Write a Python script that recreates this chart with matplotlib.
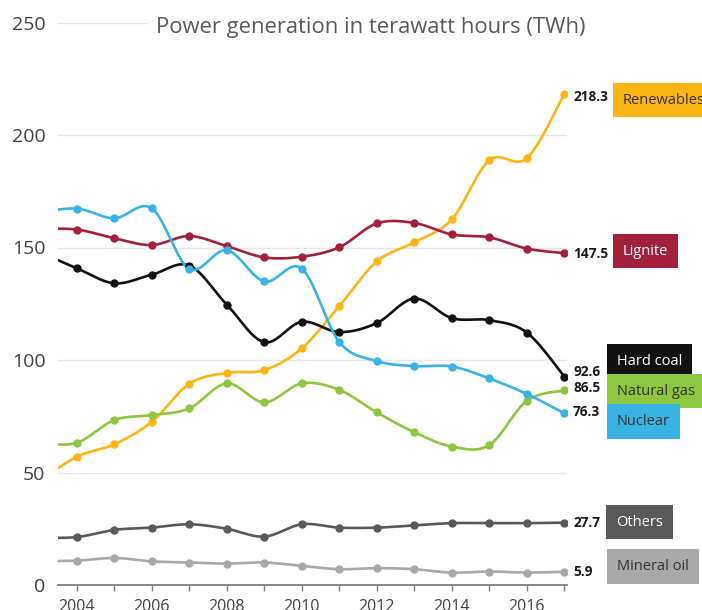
import numpy as np
import matplotlib
matplotlib.use("Agg")
import matplotlib.pyplot as plt
import matplotlib.transforms as mtransforms

plt.rcParams['font.family'] = ['Open Sans', 'DejaVu Sans']

# data (TWh), first value is 2003 which sits just outside the left edge
years = list(range(2003, 2018))
renewables = [46, 57.0, 62.5, 72.5, 89.4, 94.3, 95.5, 105.2, 124.0, 143.8, 152.3, 162.5, 188.8, 189.7, 218.3]
lignite = [158.2, 158.0, 154.1, 151.1, 155.1, 150.6, 145.6, 145.9, 150.1, 160.7, 160.9, 155.8, 154.5, 149.5, 147.5]
hard_coal = [148, 140.8, 134.1, 137.9, 142.0, 124.6, 107.9, 117.0, 112.4, 116.4, 127.3, 118.6, 117.7, 112.2, 92.6]
natural_gas = [63, 63.2, 73.3, 75.5, 78.5, 89.6, 81.2, 89.6, 86.7, 76.7, 67.9, 61.5, 62.2, 81.9, 86.5]
nuclear = [165.5, 167.3, 163.0, 167.4, 140.5, 148.8, 134.9, 140.6, 108.0, 99.5, 97.3, 97.1, 91.8, 84.9, 76.3]
others = [21, 21.3, 24.5, 25.5, 27.0, 25.0, 21.5, 27.0, 25.5, 25.5, 26.5, 27.5, 27.5, 27.5, 27.7]
mineral_oil = [10.5, 10.8, 12.0, 10.5, 10.0, 9.5, 10.0, 8.5, 7.0, 7.5, 7.0, 5.5, 6.0, 5.5, 5.9]

names = ['Renewables', 'Lignite', 'Hard coal', 'Natural gas', 'Nuclear', 'Others', 'Mineral oil']
series = [renewables, lignite, hard_coal, natural_gas, nuclear, others, mineral_oil]
colors = ['#FDB515', '#A3203A', '#111111', '#8DC63F', '#38B3E3', '#595959', '#A8A8A8']
text_colors = ['#333333', 'white', 'white', '#333333', '#333333', 'white', '#333333']
# label layout: box centre (TWh scale), box left (axes fraction), value label centre
box_y = [215.5, 148.4, 99.3, 86.2, 72.6, 28.0, 8.2]
box_x = [1.110, 1.110, 1.098, 1.098, 1.098, 1.096, 1.098]
val_y = [216.8, 147.2, 94.6, 87.4, 76.8, 27.7, 6.0]


def smooth(x, y, n=25):
    # catmull-rom curve through the points, like excel "smoothed line"
    x = np.asarray(x, float)
    y = np.asarray(y, float)
    px = np.concatenate([[x[0]], x, [x[-1]]])
    py = np.concatenate([[y[0]], y, [y[-1]]])
    t = np.linspace(0, 1, n)
    xs, ys = [], []
    for i in range(1, len(px) - 2):
        for p, out in ((px, xs), (py, ys)):
            p0, p1, p2, p3 = p[i - 1], p[i], p[i + 1], p[i + 2]
            out.append(0.5 * (2 * p1 + (-p0 + p2) * t + (2 * p0 - 5 * p1 + 4 * p2 - p3) * t ** 2
                              + (-p0 + 3 * p1 - 3 * p2 + p3) * t ** 3))
    return np.concatenate(xs), np.concatenate(ys)


fig = plt.figure(figsize=(7.02, 6.10), dpi=100)
ax = fig.add_axes([58 / 702, 25 / 610, (567 - 58) / 702, (585 - 22.5) / 610])

for s, c in zip(series, colors):
    sx, sy = smooth(years, s)
    ax.plot(sx, sy, color=c, lw=1.9, zorder=3, solid_capstyle='round')
    ax.plot(years[1:], s[1:], 'o', color=c, ms=5, zorder=4)

ax.set_xlim(2003.5, 2017.07)
ax.set_ylim(0, 250)
ax.set_yticks([0, 50, 100, 150, 200, 250])
ax.grid(axis='y', color='#E6E6E6', lw=1)
ax.set_axisbelow(True)
for sp in ['top', 'right', 'left']:
    ax.spines[sp].set_visible(False)
ax.spines['bottom'].set_color('#7F7F7F')
ax.spines['bottom'].set_linewidth(1.3)
ax.tick_params(axis='y', length=0, labelsize=14, labelcolor='#404040', pad=9)
ax.set_xticks(years[1:])
ax.set_xticklabels([str(y) if y % 2 == 0 else '' for y in years[1:]])
ax.tick_params(axis='x', length=4, width=1, color='#7F7F7F', labelsize=11.5,
               labelcolor='#404040', pad=6)

ax.text(0.615, 0.991, 'Power generation in terawatt hours (TWh)', transform=ax.transAxes,
        fontsize=15.8, color='#595959', ha='center', va='center',
        bbox=dict(facecolor='white', edgecolor='none', pad=6), zorder=5)

tr = mtransforms.blended_transform_factory(ax.transAxes, ax.transData)
for name, s, c, tc, by, bx, vy in zip(names, series, colors, text_colors, box_y, box_x, val_y):
    ax.text(1.012, vy, f'{s[-1]:.1f}', transform=tr, fontsize=9.8, fontweight='bold',
            color='#1A1A1A', ha='left', va='center', clip_on=False)
    ax.text(bx, by, name, transform=tr, fontsize=10.5, color=tc, ha='left', va='center',
            clip_on=False, bbox=dict(facecolor=c, edgecolor='none', pad=7))

fig.savefig('out.png', dpi=100)
